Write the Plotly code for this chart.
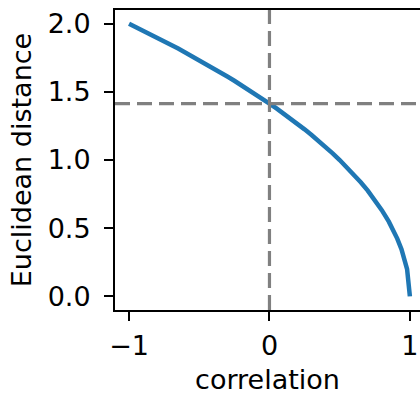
import plotly.graph_objects as go

# Data
correlation = [-1.00, -0.95, -0.90, -0.85, -0.80, -0.75, -0.70, -0.65, -0.60, -0.55,
               -0.50, -0.45, -0.40, -0.35, -0.30, -0.25, -0.20, -0.15, -0.10, -0.05,
               0.00, 0.05, 0.10, 0.15, 0.20, 0.25, 0.30, 0.35, 0.40, 0.45,
               0.50, 0.55, 0.60, 0.65, 0.70, 0.75, 0.80, 0.85, 0.88, 0.91,
               0.94, 0.96, 0.98, 1.00]
distance = [2.000, 1.975, 1.949, 1.924, 1.897, 1.871, 1.844, 1.817, 1.789, 1.761,
            1.732, 1.703, 1.673, 1.643, 1.612, 1.581, 1.549, 1.517, 1.483, 1.449,
            1.414, 1.378, 1.342, 1.304, 1.265, 1.225, 1.183, 1.140, 1.095, 1.049,
            1.000, 0.949, 0.894, 0.837, 0.775, 0.707, 0.632, 0.548, 0.490, 0.424,
            0.346, 0.283, 0.200, 0.000]
ref_corr = 0.0
ref_dist = 1.414
x_ticks = [-1, 0, 1]
x_ticklabels = ["\u22121", "0", "1"]
y_ticks = [0.0, 0.5, 1.0, 1.5, 2.0]
y_ticklabels = ["0.0", "0.5", "1.0", "1.5", "2.0"]

fig = go.Figure()
fig.add_trace(go.Scatter(x=correlation, y=distance, mode="lines",
                         line=dict(color="#1f77b4", width=4.5), showlegend=False))
fig.add_hline(y=ref_dist, line=dict(color="#808080", width=3.2, dash="15px,7px"))
fig.add_vline(x=ref_corr, line=dict(color="#808080", width=3.2, dash="15px,7px"))

font = dict(family="DejaVu Sans", size=27, color="black")
fig.update_layout(
    width=420, height=396,
    margin=dict(l=115, r=0, t=10, b=86),
    plot_bgcolor="white", paper_bgcolor="white",
    font=font,
    xaxis=dict(range=[-1.1, 1.072], tickvals=x_ticks, ticktext=x_ticklabels,
               showgrid=False, zeroline=False, showline=True, linecolor="black",
               linewidth=2, mirror=True, ticks="outside", ticklen=9, tickwidth=2,
               tickcolor="black", ticklabelstandoff=2,
               title=dict(text="correlation", font=font, standoff=10)),
    yaxis=dict(range=[-0.1, 2.1], tickvals=y_ticks, ticktext=y_ticklabels,
               showgrid=False, zeroline=False, showline=True, linecolor="black",
               linewidth=2, mirror=False, ticks="outside", ticklen=9, tickwidth=2,
               tickcolor="black", ticklabelstandoff=8,
               title=dict(text="Euclidean distance", font=font, standoff=8)),
)
fig.write_html("out.html")
